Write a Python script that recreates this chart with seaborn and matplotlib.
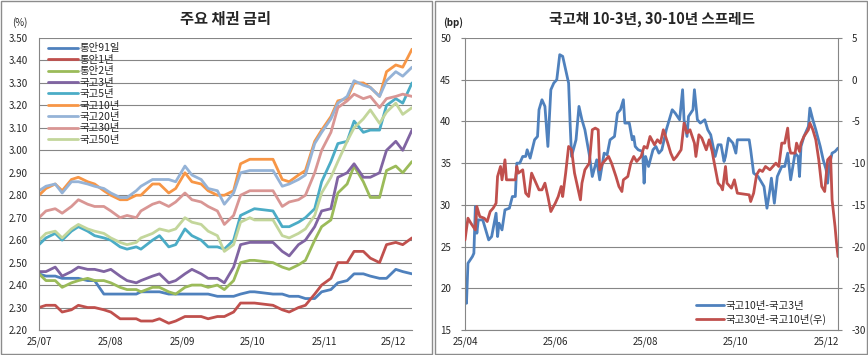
import pandas as pd
import seaborn as sns
import matplotlib.pyplot as plt
import matplotlib.dates as mdates
from matplotlib.patches import Rectangle
from matplotlib.ticker import FormatStrFormatter, MultipleLocator

YEAR = "2025-"

# 주요 채권 금리 (%)
rate_dates = ["07-01", "07-04", "07-08", "07-11", "07-15", "07-18", "07-22", "07-25", "07-29",
              "08-01", "08-05", "08-08", "08-12", "08-14", "08-19", "08-22", "08-26", "08-29",
              "09-02", "09-05", "09-09", "09-12", "09-16", "09-19", "09-23", "09-26", "09-30",
              "10-02", "10-10", "10-14", "10-17", "10-21", "10-24", "10-28", "10-31",
              "11-04", "11-07", "11-11", "11-14", "11-18", "11-21", "11-25", "11-28",
              "12-02", "12-05", "12-09"]
msb_91d = [2.45, 2.44, 2.44, 2.43, 2.43, 2.43, 2.42, 2.42, 2.36,
           2.36, 2.36, 2.36, 2.36, 2.37, 2.37, 2.37, 2.36, 2.36,
           2.36, 2.36, 2.36, 2.36, 2.35, 2.35, 2.35, 2.36, 2.37,
           2.37, 2.36, 2.36, 2.35, 2.35, 2.34, 2.34, 2.37,
           2.38, 2.41, 2.42, 2.45, 2.45, 2.44, 2.43, 2.43,
           2.47, 2.46, 2.45]
msb_1y = [2.30, 2.31, 2.31, 2.28, 2.29, 2.31, 2.30, 2.30, 2.29,
          2.28, 2.25, 2.25, 2.25, 2.24, 2.24, 2.25, 2.23, 2.24,
          2.26, 2.26, 2.26, 2.25, 2.26, 2.26, 2.28, 2.32, 2.32,
          2.32, 2.31, 2.29, 2.28, 2.30, 2.31, 2.36, 2.40,
          2.43, 2.50, 2.50, 2.55, 2.55, 2.52, 2.50, 2.58,
          2.59, 2.58, 2.61]
msb_2y = [2.45, 2.42, 2.42, 2.39, 2.41, 2.42, 2.43, 2.42, 2.42,
          2.41, 2.39, 2.38, 2.38, 2.37, 2.39, 2.39, 2.37, 2.36,
          2.39, 2.40, 2.40, 2.39, 2.40, 2.38, 2.42, 2.50, 2.51,
          2.51, 2.50, 2.48, 2.47, 2.49, 2.51, 2.60, 2.66,
          2.69, 2.81, 2.85, 2.93, 2.86, 2.79, 2.79, 2.91,
          2.93, 2.90, 2.95]
ktb_3y = [2.46, 2.46, 2.48, 2.44, 2.46, 2.48, 2.47, 2.47, 2.46,
          2.47, 2.44, 2.42, 2.41, 2.42, 2.44, 2.45, 2.41, 2.42,
          2.45, 2.47, 2.45, 2.43, 2.43, 2.41, 2.48, 2.58, 2.59,
          2.59, 2.59, 2.55, 2.53, 2.58, 2.60, 2.66, 2.73,
          2.74, 2.88, 2.90, 2.94, 2.88, 2.88, 2.90, 3.00,
          3.04, 3.00, 3.09]
ktb_5y = [2.58, 2.61, 2.63, 2.60, 2.64, 2.66, 2.64, 2.62, 2.61,
          2.60, 2.57, 2.56, 2.57, 2.56, 2.60, 2.62, 2.57, 2.58,
          2.65, 2.62, 2.60, 2.57, 2.57, 2.56, 2.60, 2.71, 2.73,
          2.74, 2.73, 2.66, 2.66, 2.68, 2.70, 2.74, 2.86,
          2.95, 3.03, 3.04, 3.13, 3.08, 3.09, 3.09, 3.20,
          3.23, 3.21, 3.30]
ktb_10y = [2.80, 2.83, 2.85, 2.82, 2.87, 2.88, 2.86, 2.85, 2.82,
           2.80, 2.78, 2.78, 2.80, 2.80, 2.85, 2.85, 2.81, 2.83,
           2.90, 2.86, 2.85, 2.82, 2.80, 2.80, 2.82, 2.94, 2.96,
           2.96, 2.96, 2.87, 2.86, 2.89, 2.91, 3.04, 3.09,
           3.15, 3.22, 3.23, 3.30, 3.30, 3.28, 3.24, 3.35,
           3.38, 3.37, 3.45]
ktb_20y = [2.82, 2.84, 2.85, 2.81, 2.86, 2.86, 2.85, 2.84, 2.83,
           2.81, 2.79, 2.79, 2.82, 2.84, 2.87, 2.87, 2.87, 2.86,
           2.93, 2.89, 2.87, 2.83, 2.82, 2.76, 2.81, 2.90, 2.91,
           2.91, 2.91, 2.84, 2.85, 2.87, 2.89, 3.03, 3.08,
           3.14, 3.21, 3.24, 3.31, 3.29, 3.28, 3.24, 3.31,
           3.35, 3.33, 3.37]
ktb_30y = [2.70, 2.73, 2.74, 2.72, 2.75, 2.78, 2.76, 2.75, 2.75,
           2.73, 2.70, 2.71, 2.70, 2.73, 2.76, 2.77, 2.75, 2.77,
           2.81, 2.78, 2.77, 2.75, 2.73, 2.67, 2.71, 2.80, 2.82,
           2.82, 2.82, 2.75, 2.77, 2.78, 2.80, 2.90, 3.00,
           3.08, 3.19, 3.22, 3.25, 3.23, 3.24, 3.19, 3.23,
           3.24, 3.25, 3.24]
ktb_50y = [2.60, 2.63, 2.64, 2.61, 2.65, 2.67, 2.65, 2.64, 2.63,
           2.61, 2.59, 2.58, 2.59, 2.61, 2.63, 2.65, 2.64, 2.65,
           2.70, 2.68, 2.67, 2.64, 2.62, 2.55, 2.58, 2.68, 2.70,
           2.69, 2.69, 2.62, 2.61, 2.63, 2.65, 2.71, 2.81,
           2.88, 2.95, 3.04, 3.10, 3.14, 3.18, 3.12, 3.17,
           3.21, 3.16, 3.19]

series_names = ["통안91일", "통안1년", "통안2년", "국고3년", "국고5년",
                "국고10년", "국고20년", "국고30년", "국고50년"]
series_colors = ["#4F81BD", "#C0504D", "#9BBB59", "#8064A2", "#4BACC6",
                 "#F79646", "#95B3D7", "#D99694", "#C3D69B"]

# 국고채 스프레드 (bp)
spread_10_3_dates = ["04-01", "04-02", "04-03", "04-06", "04-07", "04-08", "04-09", "04-10", "04-13",
                     "04-15", "04-17", "04-19", "04-22", "04-23", "04-24", "04-26", "04-28", "05-01",
                     "05-03", "05-05", "05-06", "05-08", "05-10", "05-12", "05-13", "05-15", "05-18",
                     "05-20", "05-21", "05-23", "05-25", "05-27", "05-29", "05-31", "06-02", "06-04",
                     "06-06", "06-08", "06-10", "06-11", "06-12", "06-15", "06-17", "06-19", "06-21",
                     "06-24", "06-26", "06-29", "07-01", "07-04", "07-06", "07-08", "07-11", "07-13",
                     "07-15", "07-17", "07-18", "07-21", "07-23", "07-24", "07-25", "07-27", "07-30",
                     "07-31", "08-01", "08-03", "08-06", "08-08", "08-10", "08-12", "08-15", "08-17",
                     "08-19", "08-21", "08-24", "08-26", "08-27", "08-29", "08-30", "09-02", "09-03",
                     "09-05", "09-07", "09-10", "09-12", "09-14", "09-17", "09-19", "09-21", "09-23",
                     "09-24", "09-26", "09-29", "10-01", "10-02", "10-10", "10-11", "10-13", "10-16",
                     "10-18", "10-20", "10-22", "10-24", "10-25", "10-27", "10-29", "11-01", "11-03",
                     "11-05", "11-07", "11-10", "11-12", "11-13", "11-14", "11-16", "11-19", "11-20",
                     "11-22", "11-24", "11-27", "11-29", "12-01", "12-02", "12-03", "12-05", "12-07",
                     "12-09"]
spread_10_3 = [20.2, 18.2, 23.0, 23.8, 24.2, 29.8, 26.6, 28.2, 28.2,
               27.0, 25.8, 26.2, 29.0, 26.2, 27.8, 27.0, 29.4, 29.6,
               31.0, 31.0, 35.0, 35.0, 35.8, 35.8, 36.6, 35.6, 37.8,
               38.2, 41.4, 42.6, 41.8, 37.0, 43.8, 44.6, 45.0, 48.0,
               47.8, 46.2, 44.6, 39.8, 35.8, 37.8, 41.8, 40.2, 39.0,
               36.0, 33.4, 35.4, 33.0, 36.2, 36.0, 37.8, 38.2, 41.0,
               41.4, 42.6, 39.8, 39.8, 37.8, 38.2, 37.0, 36.6, 36.4,
               32.6, 35.8, 34.6, 36.6, 37.0, 36.2, 36.6, 39.0, 40.2,
               41.4, 41.0, 40.2, 43.8, 40.2, 38.2, 40.6, 41.4, 43.8,
               40.2, 39.8, 40.2, 39.0, 38.4, 35.8, 37.2, 37.2, 35.2,
               35.8, 38.0, 37.4, 36.2, 37.8, 37.8, 36.6, 33.8, 33.4,
               32.8, 32.2, 29.6, 31.8, 33.2, 30.2, 33.4, 34.6, 34.6,
               36.2, 33.0, 36.2, 35.8, 33.4, 37.0, 38.2, 39.4, 41.6,
               40.2, 39.0, 37.0, 35.4, 34.2, 32.6, 34.6, 36.2, 36.4,
               36.8]

spread_30_10_dates = ["04-01", "04-03", "04-05", "04-08", "04-09", "04-11", "04-14", "04-16", "04-18",
                      "04-20", "04-22", "04-23", "04-25", "04-26", "04-28", "04-29", "05-03", "05-05",
                      "05-06", "05-07", "05-10", "05-12", "05-14", "05-16", "05-19", "05-21", "05-23",
                      "05-25", "05-27", "05-29", "06-01", "06-03", "06-05", "06-06", "06-08", "06-10",
                      "06-12", "06-14", "06-16", "06-18", "06-19", "06-21", "06-24", "06-26", "06-28",
                      "06-30", "07-01", "07-03", "07-05", "07-07", "07-09", "07-12", "07-14", "07-16",
                      "07-17", "07-20", "07-22", "07-24", "07-26", "07-29", "07-31", "08-02", "08-04",
                      "08-07", "08-09", "08-11", "08-13", "08-16", "08-18", "08-20", "08-22", "08-25",
                      "08-27", "08-29", "08-31", "09-03", "09-04", "09-06", "09-08", "09-11", "09-13",
                      "09-15", "09-16", "09-19", "09-21", "09-22", "09-24", "09-25", "09-28", "09-30",
                      "10-02", "10-10", "10-11", "10-13", "10-15", "10-17", "10-19", "10-21", "10-24",
                      "10-26", "10-28", "10-30", "11-01", "11-03", "11-05", "11-06", "11-07", "11-10",
                      "11-11", "11-13", "11-14", "11-16", "11-19", "11-20", "11-22", "11-24", "11-26",
                      "11-28", "11-30", "12-02", "12-04", "12-05", "12-07", "12-08", "12-09"]
spread_30_10 = [-19.2, -16.6, -17.2, -18.0, -15.2, -16.4, -16.6, -17.0, -15.8,
                -15.4, -14.8, -11.6, -10.4, -12.0, -9.6, -12.0, -12.0, -12.0,
                -10.4, -11.2, -10.8, -13.6, -14.0, -11.2, -12.4, -13.2, -13.2,
                -12.4, -14.0, -15.8, -14.8, -14.0, -12.8, -14.0, -11.2, -8.0,
                -8.4, -11.2, -12.8, -14.4, -12.4, -10.8, -10.0, -6.0, -5.8,
                -6.0, -10.8, -10.0, -9.6, -9.2, -10.0, -11.6, -12.8, -13.4,
                -12.0, -11.6, -10.0, -9.2, -9.8, -9.2, -8.0, -8.2, -6.8,
                -7.8, -7.2, -7.6, -6.0, -7.6, -8.8, -9.6, -9.2, -8.4,
                -5.2, -6.4, -6.0, -7.6, -9.2, -6.6, -7.0, -8.4, -7.2,
                -8.6, -9.6, -12.4, -12.8, -13.2, -10.4, -12.4, -13.0, -12.0,
                -13.6, -13.8, -14.6, -13.6, -11.4, -10.8, -11.0, -10.4, -10.8,
                -10.4, -10.0, -10.4, -7.6, -7.6, -5.8, -8.0, -8.8, -8.8,
                -7.6, -8.6, -7.6, -6.8, -6.0, -5.2, -6.0, -7.2, -9.6,
                -12.8, -13.4, -9.6, -9.2, -14.4, -17.6, -19.6, -21.2]

GRAY = "#868686"
W, H = 868, 355


def set_config():
    sns.set_style("white")
    plt.rcParams["font.family"] = ["Noto Sans CJK KR", "DejaVu Sans"]
    plt.rcParams["axes.unicode_minus"] = False


def px_box(x0, y0, x1, y1):
    # 픽셀 좌표(왼쪽 위 기준) -> figure 좌표
    return [x0 / W, 1 - y1 / H, (x1 - x0) / W, (y1 - y0) / H]


def style_axis(ax, y_pad):
    ax.set_xlabel("")
    ax.set_ylabel("")
    ax.yaxis.grid(True, color=GRAY, linewidth=0.8)
    ax.xaxis.grid(False)
    ax.set_axisbelow(True)
    for side in ["top", "right"]:
        ax.spines[side].set_visible(False)
    for side in ["left", "bottom"]:
        ax.spines[side].set_color(GRAY)
        ax.spines[side].set_linewidth(0.8)
    ax.tick_params(axis="y", direction="out", length=3, color=GRAY, labelsize=7, pad=y_pad)
    ax.tick_params(axis="x", direction="in", length=3, color=GRAY, labelsize=7, pad=5)
    ax.xaxis.set_major_formatter(mdates.DateFormatter("%y/%m"))


def draw_rates(ax):
    rates = pd.DataFrame({"date": pd.to_datetime([YEAR + d for d in rate_dates])})
    for name, values in zip(series_names, [msb_91d, msb_1y, msb_2y, ktb_3y, ktb_5y,
                                           ktb_10y, ktb_20y, ktb_30y, ktb_50y]):
        rates[name] = values
    rates = rates.melt(id_vars="date", var_name="series", value_name="rate")

    sns.lineplot(data=rates, x="date", y="rate", hue="series", hue_order=series_names,
                 palette=series_colors, linewidth=2.0, errorbar=None, ax=ax)
    style_axis(ax, 5)
    ax.set_ylim(2.2, 3.5)
    ax.yaxis.set_major_locator(MultipleLocator(0.1))
    ax.yaxis.set_major_formatter(FormatStrFormatter("%.2f"))
    ax.xaxis.set_major_locator(mdates.MonthLocator())
    ax.set_xlim(pd.Timestamp("2025-07-01"), pd.Timestamp("2025-12-09"))

    handles, labels = ax.get_legend_handles_labels()
    ax.legend(handles, labels, loc="upper left", bbox_to_anchor=(0.024, 0.982),
              frameon=False, fontsize=7.5, handlelength=2.9, handletextpad=0.1,
              labelspacing=0.14, borderpad=0, borderaxespad=0)


def draw_spreads(ax):
    d1 = pd.to_datetime([YEAR + d for d in spread_10_3_dates])
    d2 = pd.to_datetime([YEAR + d for d in spread_30_10_dates])

    sns.lineplot(x=d1, y=spread_10_3, color="#4F81BD", linewidth=2.0, ax=ax)
    style_axis(ax, 7)
    ax.set_ylim(15, 50)
    ax.yaxis.set_major_locator(MultipleLocator(5))
    ax.xaxis.set_major_locator(mdates.MonthLocator(bymonth=[4, 6, 8, 10, 12]))
    ax.set_xlim(pd.Timestamp("2025-04-01"), pd.Timestamp("2025-12-09"))

    axr = ax.twinx()
    sns.lineplot(x=d2, y=spread_30_10, color="#C0504D", linewidth=2.0, ax=axr)
    axr.set_ylim(-30, 5)
    axr.yaxis.set_major_locator(MultipleLocator(5))
    axr.set_ylabel("")
    for side in ["top", "left", "bottom"]:
        axr.spines[side].set_visible(False)
    axr.spines["right"].set_color(GRAY)
    axr.spines["right"].set_linewidth(0.8)
    axr.tick_params(axis="y", direction="out", length=3, color=GRAY, labelsize=7, pad=7)

    axr.legend([ax.lines[0], axr.lines[0]], ["국고10년-국고3년", "국고30년-국고10년(우)"],
               loc="upper left", bbox_to_anchor=(0.62, 0.1), frameon=False, fontsize=7.5,
               handlelength=2.7, handletextpad=0.1, labelspacing=0.3,
               borderpad=0, borderaxespad=0)


set_config()

fig = plt.figure(figsize=(W / 100, H / 100), dpi=100)
ax1 = fig.add_axes(px_box(39, 38, 412, 330))
ax2 = fig.add_axes(px_box(465, 38, 838, 330))

draw_rates(ax1)
draw_spreads(ax2)

fig.text(225 / W, 1 - 19 / H, "주요 채권 금리", ha="center", va="center", fontsize=11, fontweight="bold")
fig.text(652 / W, 1 - 19 / H, "국고채 10-3년, 30-10년 스프레드", ha="center", va="center",
         fontsize=10.5, fontweight="bold")
fig.text(20 / W, 1 - 23 / H, "(%)", ha="center", va="center", fontsize=7)
fig.text(453 / W, 1 - 23 / H, "(bp)", ha="center", va="center", fontsize=7, fontweight="bold")

# 차트 테두리
for x0 in [0.5, 435.5]:
    fig.add_artist(Rectangle((x0 / W, 1.5 / H), 431 / W, 352.5 / H, transform=fig.transFigure,
                             fill=False, edgecolor="#8c8c8c", linewidth=1))

fig.savefig("out.png", dpi=100)
